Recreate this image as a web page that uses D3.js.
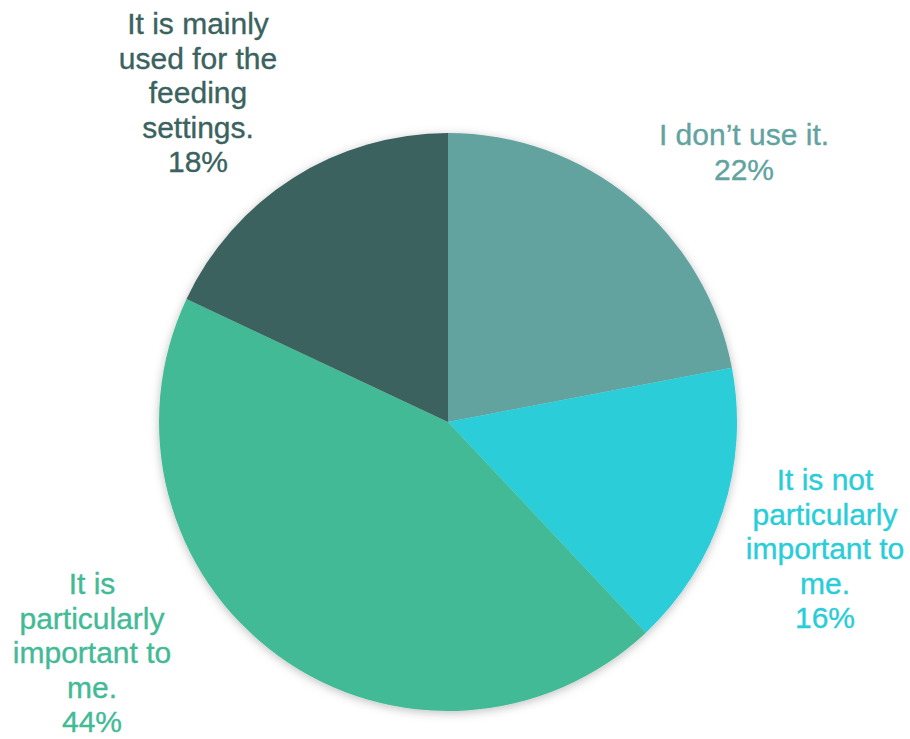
<!DOCTYPE html>
<html>
<head>
<meta charset="utf-8">
<script src="https://cdn.jsdelivr.net/npm/d3@7"></script>
<style>
  body { margin: 0; background: #fff; }
  .label { font-family: "Liberation Sans", Arial, sans-serif; font-size: 30px; stroke-width: 0.35px; }
</style>
</head>
<body>
<div class="interactive"></div>
<script>
var width = 910;
var height = 739;

// data
var categories = ["I don\u2019t use it.", "It is not particularly important to me.", "It is particularly important to me.", "It is mainly used for the feeding settings."];
var values = [22, 16, 44, 18];
var colors = ["#62A39F", "#29CDD8", "#43BA96", "#3A625E"];
var labelLines = [
  ["I don\u2019t use it."],
  ["It is not", "particularly", "important to", "me."],
  ["It is", "particularly", "important to", "me."],
  ["It is mainly", "used for the", "feeding", "settings."]
];

// first-baseline position of each label relative to pie centre (layout only)
var labelOffsets = [[296, -277], [377, 68], [-356, 172], [-250, -388]];

var cx = 448, cy = 422, radius = 289;

var svg = d3.select(".interactive")
    .append("svg")
    .attr("width", width)
    .attr("height", height);

var defs = svg.append("defs");
var filter = defs.append("filter")
    .attr("id", "shadow")
    .attr("x", "-20%").attr("y", "-20%")
    .attr("width", "140%").attr("height", "140%");
filter.append("feDropShadow")
    .attr("dx", 0).attr("dy", 2)
    .attr("stdDeviation", 5)
    .attr("flood-color", "#000")
    .attr("flood-opacity", 0.25);

var pie = d3.pie().sort(null).value(function(d) { return d; });
var arc = d3.arc().innerRadius(0).outerRadius(radius);

var g = svg.append("g")
    .attr("transform", "translate(" + cx + "," + cy + ")");

g.append("g")
    .attr("filter", "url(#shadow)")
    .selectAll("path")
    .data(pie(values))
    .enter()
    .append("path")
    .attr("fill", function(d, i) { return colors[i]; })
    .attr("d", arc);

var lineH = 34.5;
var labels = g.selectAll("text.label")
    .data(pie(values))
    .enter()
    .append("text")
    .attr("class", "label")
    .attr("text-anchor", "middle")
    .attr("fill", function(d, i) { return colors[i]; })
    .attr("stroke", function(d, i) { return colors[i]; })
    .attr("transform", function(d, i) {
      return "translate(" + labelOffsets[i][0] + "," + labelOffsets[i][1] + ")";
    });

labels.each(function(d, i) {
  var t = d3.select(this);
  var lines = labelLines[i].concat([values[i] + "%"]);
  lines.forEach(function(l, k) {
    t.append("tspan")
      .attr("x", 0)
      .attr("y", k * lineH)
      .text(l);
  });
});
</script>
</body>
</html>
